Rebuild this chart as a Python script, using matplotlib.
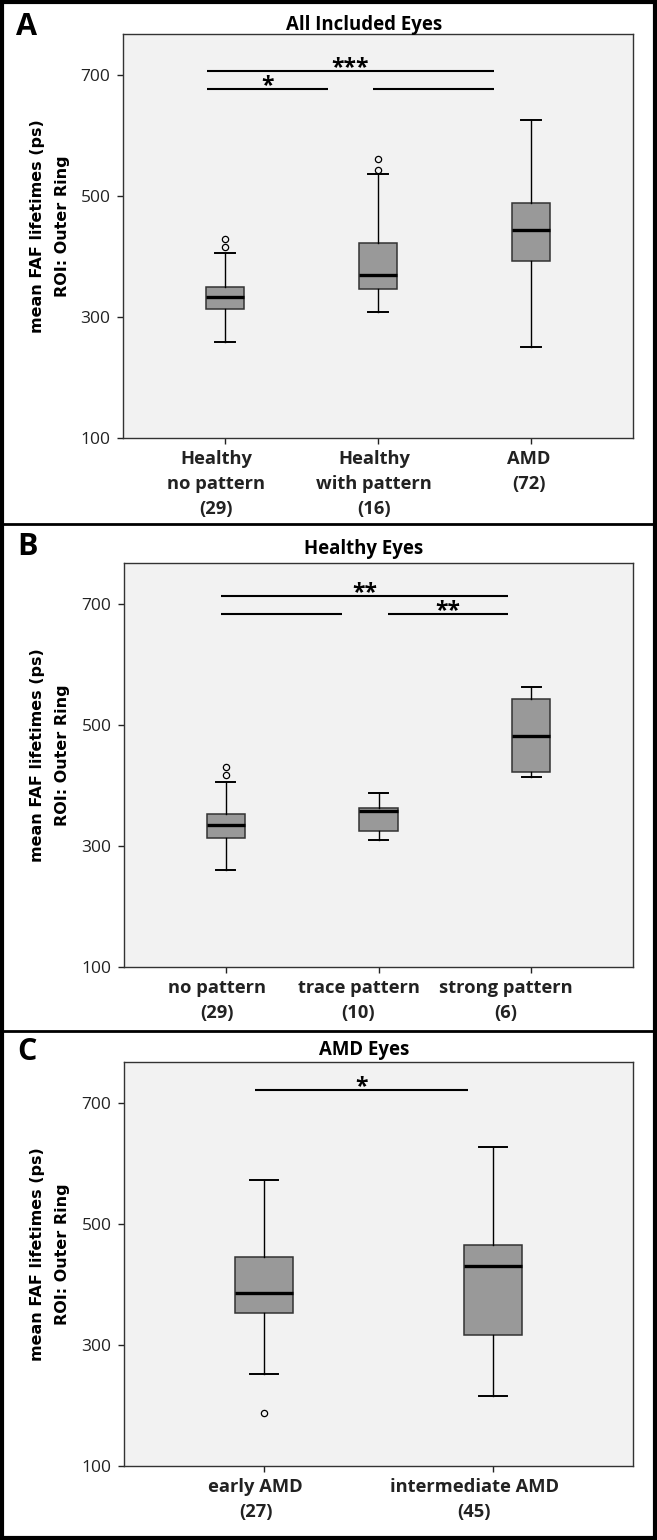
import matplotlib
matplotlib.use("Agg")
import matplotlib.pyplot as plt
from matplotlib.lines import Line2D
from matplotlib.transforms import ScaledTranslation

W, H = 657, 1540

# Panel A: all included eyes
a_title = "All Included Eyes"
a_labels = ["Healthy\nno pattern\n(29)", "Healthy\nwith pattern\n(16)", "AMD\n(72)"]
a_whislo = [259, 308, 250]
a_q1 = [313, 346, 393]
a_med = [333, 369, 444]
a_q3 = [350, 422, 488]
a_whishi = [406, 536, 626]
a_fliers = [[416, 429], [543, 561], []]

# Panel B: healthy eyes
b_title = "Healthy Eyes"
b_labels = ["no pattern\n(29)", "trace pattern\n(10)", "strong pattern\n(6)"]
b_whislo = [260, 310, 414]
b_q1 = [313, 325, 422]
b_med = [335, 358, 482]
b_q3 = [353, 363, 543]
b_whishi = [406, 388, 563]
b_fliers = [[417, 430], [], []]

# Panel C: AMD eyes
c_title = "AMD Eyes"
c_labels = ["early AMD\n(27)", "intermediate AMD\n(45)"]
c_whislo = [252, 216]
c_q1 = [353, 316]
c_med = [386, 431]
c_q3 = [445, 465]
c_whishi = [573, 627]
c_fliers = [[188], []]

# significance bars: (x start, x end, level, stars)
a_sig = [(-0.12, 1.76, 707, "***"), (-0.12, 0.67, 677, "*"), (0.97, 1.76, 677, "")]
b_sig = [(-0.03, 1.85, 713, "**"), (-0.03, 0.76, 683, ""), (1.06, 1.85, 683, "**")]
c_sig = [(-0.04, 0.89, 721, "*")]

yticks = [100, 300, 500, 700]

# the category labels in the original sit a little left of their boxes (pixels)
a_label_shift = [-9, -4, -2]
b_label_shift = [-9, -20, -25]
c_label_shift = [-8, -19]

BOLD = dict(family="Open Sans", weight="bold")


def fx(px):
    return px / W


def fy(py):
    return 1 - py / H


def draw_panel(fig, box, title, labels, whislo, q1, med, q3, whishi, fliers, sig,
               shifts, letter, title_y, letter_y):
    left, top, right, bottom = box
    ax = fig.add_axes([fx(left), fy(bottom), fx(right - left), (bottom - top) / H])
    ax.set_facecolor("#f2f2f2")
    stats = []
    for i in range(len(labels)):
        stats.append(dict(whislo=whislo[i], q1=q1[i], med=med[i], q3=q3[i],
                          whishi=whishi[i], fliers=fliers[i]))
    n = len(labels)
    ax.bxp(stats, positions=range(n), widths=0.25, capwidths=0.125,
           patch_artist=True, showfliers=True,
           boxprops=dict(facecolor="#999999", edgecolor="#333333", linewidth=1.1),
           medianprops=dict(color="black", linewidth=2.4),
           whiskerprops=dict(color="black", linewidth=1.0),
           capprops=dict(color="black", linewidth=1.4),
           flierprops=dict(marker="o", markersize=4.5, markerfacecolor="none",
                           markeredgecolor="black", markeredgewidth=0.9))
    pad = 0.667 if n == 3 else 0.61
    ax.set_xlim(-pad, n - 1 + pad)
    ax.set_ylim(100, 768)
    ax.set_yticks(yticks)
    ax.set_yticklabels([str(t) for t in yticks], family="Open Sans", fontsize=12.5)
    ax.set_xticks(range(n))
    ax.set_xticklabels(labels, linespacing=1.5, fontsize=13.2, **BOLD)
    ax.tick_params(axis="y", length=4, width=1, pad=5, colors="#222222")
    ax.tick_params(axis="x", length=4.5, width=1, pad=4, colors="#222222")
    for s in ax.spines.values():
        s.set_color("#333333")
        s.set_linewidth(1.0)
    for lab, dx in zip(ax.get_xticklabels(), shifts):
        lab.set_transform(lab.get_transform() + ScaledTranslation(dx / 100, 0, fig.dpi_scale_trans))

    for x0, x1, level, stars in sig:
        ax.plot([x0, x1], [level, level], color="black", linewidth=1.5, solid_capstyle="butt")
        if stars:
            ax.annotate(stars, xy=((x0 + x1) / 2, level), xytext=(0, -2),
                        textcoords="offset points", ha="center", va="baseline",
                        fontsize=16.5, **BOLD)

    fig.text(fx(364), fy(title_y), title, ha="center", va="center", fontsize=13.4, **BOLD)
    fig.text(fx(27), fy(letter_y), letter, ha="center", va="center", fontsize=22, **BOLD)
    yc = (top + bottom) / 2 - 10
    fig.text(fx(38), fy(yc), "mean FAF lifetimes (ps)", rotation=90, ha="center", va="center",
             family="DejaVu Sans", weight="bold", fontsize=11.5)
    fig.text(fx(63), fy(yc), "ROI: Outer Ring", rotation=90, ha="center", va="center",
             family="DejaVu Sans", weight="bold", fontsize=11.5)
    return ax


fig = plt.figure(figsize=(W / 100, H / 100), dpi=100)
fig.patch.set_facecolor("white")

draw_panel(fig, (123, 34, 633, 438), a_title, a_labels, a_whislo, a_q1, a_med, a_q3,
           a_whishi, a_fliers, a_sig, a_label_shift, "A", 25, 27)
draw_panel(fig, (124, 563, 633, 967), b_title, b_labels, b_whislo, b_q1, b_med, b_q3,
           b_whishi, b_fliers, b_sig, b_label_shift, "B", 549, 547)
draw_panel(fig, (124, 1062, 633, 1466), c_title, c_labels, c_whislo, c_q1, c_med, c_q3,
           c_whishi, c_fliers, c_sig, c_label_shift, "C", 1050, 1052)

# outer frame and panel dividers
frame = plt.Rectangle((fx(2), fy(H - 2)), fx(W - 4), (H - 4) / H, transform=fig.transFigure,
                      fill=False, edgecolor="black", linewidth=3)
fig.add_artist(frame)
for yline in [524, 1031]:
    fig.add_artist(Line2D([0, 1], [fy(yline), fy(yline)], transform=fig.transFigure,
                          color="black", linewidth=2))

fig.savefig("out.png", dpi=100)
